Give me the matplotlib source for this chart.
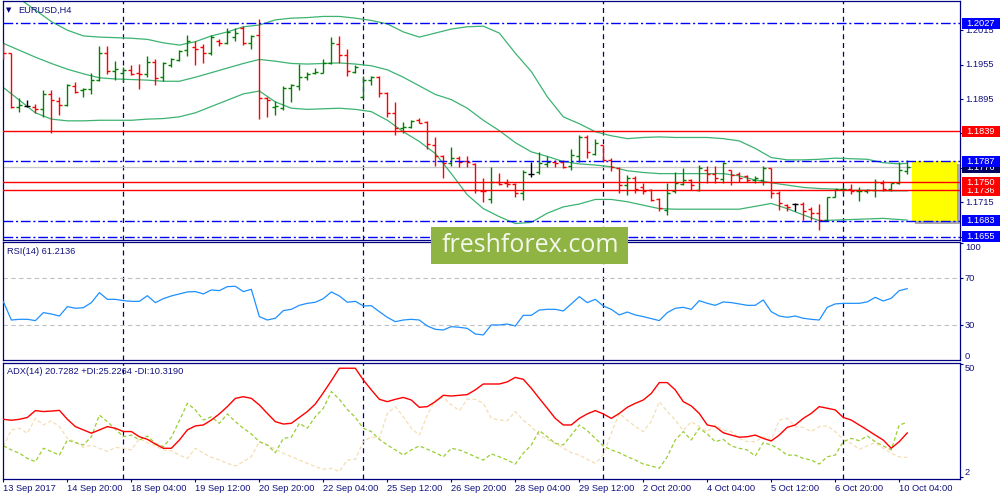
import numpy as np
import matplotlib
matplotlib.use("Agg")
import matplotlib.pyplot as plt
from matplotlib.patches import Rectangle
from matplotlib.transforms import blended_transform_factory

plt.rcParams['font.family'] = ['Liberation Sans', 'DejaVu Sans']

# EURUSD H4 bars, 13 Sep 2017 12:00 .. 10 Oct 2017 08:00
opens = [1.1986, 1.1975, 1.1881, 1.1883, 1.1881, 1.1877, 1.1903, 1.1892, 1.1884, 1.1918,
         1.1910, 1.1912, 1.1929, 1.1975, 1.1944, 1.1940, 1.1946, 1.1940, 1.1939, 1.1959,
         1.1933, 1.1954, 1.1963, 1.1980, 1.1986, 1.1986, 1.1975, 1.1996, 1.1992, 1.2004,
         1.2019, 1.1992, 1.2007, 1.1896, 1.1882, 1.1879, 1.1914, 1.1918, 1.1933, 1.1940,
         1.1941, 1.1957, 1.1991, 1.1972, 1.1943, 1.1898, 1.1928, 1.1934, 1.1905, 1.1871,
         1.1844, 1.1847, 1.1858, 1.1855, 1.1815, 1.1795, 1.1784, 1.1792, 1.1787, 1.1782,
         1.1735, 1.1720, 1.1751, 1.1749, 1.1747, 1.1732, 1.1765, 1.1767, 1.1782, 1.1786,
         1.1786, 1.1779, 1.1795, 1.1829, 1.1800, 1.1815, 1.1788, 1.1774, 1.1745, 1.1757,
         1.1742, 1.1736, 1.1720, 1.1702, 1.1734, 1.1747, 1.1754, 1.1736, 1.1772, 1.1765,
         1.1755, 1.1771, 1.1764, 1.1761, 1.1754, 1.1754, 1.1774, 1.1732, 1.1710, 1.1712,
         1.1712, 1.1704, 1.1696, 1.1684, 1.1725, 1.1738, 1.1738, 1.1734, 1.1735, 1.1736,
         1.1749, 1.1739, 1.1748, 1.1770]
highs = [1.1992, 1.1976, 1.1896, 1.1893, 1.1886, 1.1911, 1.1910, 1.1899, 1.1921, 1.1925,
         1.1915, 1.1941, 1.1987, 1.1987, 1.1961, 1.1950, 1.1954, 1.1956, 1.1970, 1.1964,
         1.1959, 1.1966, 1.1980, 1.2007, 1.1996, 1.1991, 1.2007, 1.2000, 1.2019, 1.2018,
         1.2022, 1.2007, 1.2034, 1.1899, 1.1892, 1.1918, 1.1921, 1.1956, 1.1943, 1.1949,
         1.1964, 1.2004, 1.2005, 1.1983, 1.1954, 1.1936, 1.1936, 1.1936, 1.1907, 1.1890,
         1.1855, 1.1858, 1.1862, 1.1857, 1.1829, 1.1797, 1.1811, 1.1795, 1.1795, 1.1783,
         1.1757, 1.1777, 1.1766, 1.1755, 1.1749, 1.1771, 1.1786, 1.1803, 1.1795, 1.1788,
         1.1788, 1.1808, 1.1832, 1.1832, 1.1825, 1.1815, 1.1792, 1.1776, 1.1763, 1.1760,
         1.1749, 1.1739, 1.1722, 1.1749, 1.1768, 1.1774, 1.1756, 1.1780, 1.1779, 1.1779,
         1.1786, 1.1772, 1.1767, 1.1763, 1.1760, 1.1778, 1.1775, 1.1734, 1.1712, 1.1713,
         1.1716, 1.1707, 1.1712, 1.1725, 1.1739, 1.1741, 1.1747, 1.1741, 1.1739, 1.1755,
         1.1754, 1.1749, 1.1786, 1.1789]
lows = [1.1964, 1.1879, 1.1873, 1.1881, 1.1870, 1.1864, 1.1836, 1.1867, 1.1883, 1.1906,
        1.1899, 1.1904, 1.1926, 1.1939, 1.1929, 1.1924, 1.1937, 1.1913, 1.1933, 1.1920,
        1.1926, 1.1951, 1.1962, 1.1970, 1.1954, 1.1957, 1.1972, 1.1987, 1.1991, 1.1996,
        1.1989, 1.1983, 1.1860, 1.1864, 1.1867, 1.1876, 1.1890, 1.1910, 1.1928, 1.1939,
        1.1940, 1.1956, 1.1958, 1.1935, 1.1940, 1.1897, 1.1919, 1.1898, 1.1864, 1.1832,
        1.1836, 1.1844, 1.1853, 1.1808, 1.1778, 1.1757, 1.1778, 1.1777, 1.1777, 1.1731,
        1.1716, 1.1714, 1.1745, 1.1742, 1.1725, 1.1719, 1.1759, 1.1765, 1.1777, 1.1776,
        1.1774, 1.1772, 1.1786, 1.1792, 1.1797, 1.1786, 1.1770, 1.1732, 1.1728, 1.1731,
        1.1729, 1.1718, 1.1700, 1.1693, 1.1731, 1.1745, 1.1736, 1.1734, 1.1748, 1.1748,
        1.1748, 1.1745, 1.1751, 1.1751, 1.1748, 1.1745, 1.1722, 1.1702, 1.1699, 1.1699,
        1.1684, 1.1684, 1.1667, 1.1683, 1.1724, 1.1731, 1.1729, 1.1718, 1.1731, 1.1724,
        1.1735, 1.1735, 1.1747, 1.1765]
closes = [1.1975, 1.1881, 1.1885, 1.1883, 1.1878, 1.1904, 1.1893, 1.1884, 1.1919, 1.1907,
          1.1912, 1.1929, 1.1975, 1.1944, 1.1947, 1.1946, 1.1939, 1.1939, 1.1960, 1.1932,
          1.1957, 1.1964, 1.1978, 1.1996, 1.1983, 1.1975, 1.2004, 1.1992, 1.2012, 1.2010,
          1.1992, 1.2005, 1.1896, 1.1893, 1.1883, 1.1915, 1.1919, 1.1933, 1.1939, 1.1942,
          1.1957, 1.1992, 1.1972, 1.1944, 1.1951, 1.1928, 1.1933, 1.1905, 1.1871, 1.1844,
          1.1847, 1.1856, 1.1854, 1.1817, 1.1795, 1.1783, 1.1792, 1.1786, 1.1785, 1.1736,
          1.1734, 1.1751, 1.1747, 1.1747, 1.1732, 1.1767, 1.1765, 1.1783, 1.1786, 1.1784,
          1.1777, 1.1798, 1.1829, 1.1803, 1.1818, 1.1788, 1.1776, 1.1745, 1.1757, 1.1739,
          1.1734, 1.1719, 1.1705, 1.1732, 1.1749, 1.1754, 1.1745, 1.1774, 1.1764, 1.1757,
          1.1783, 1.1763, 1.1757, 1.1754, 1.1757, 1.1774, 1.1732, 1.1713, 1.1706, 1.1712,
          1.1699, 1.1696, 1.1684, 1.1725, 1.1738, 1.1739, 1.1734, 1.1735, 1.1736, 1.1750,
          1.1739, 1.1748, 1.1771, 1.1776]

# Bollinger bands read every second bar
bb_x = list(range(0, 113, 2)) + [113]
bb_up = [1.2091, 1.2070, 1.2050, 1.2030, 1.2015, 1.2005, 1.2003, 1.2002, 1.2001, 1.1999,
         1.1993, 1.1989, 1.1995, 1.2005, 1.2012, 1.2021, 1.2024, 1.2033, 1.2036, 1.2037,
         1.2039, 1.2039, 1.2036, 1.2032, 1.2026, 1.2012, 1.2003, 1.2010, 1.2017, 1.2021,
         1.2022, 1.2010, 1.1975, 1.1943, 1.1899, 1.1864, 1.1852, 1.1838, 1.1831, 1.1826,
         1.1828, 1.1829, 1.1828, 1.1828, 1.1828, 1.1826, 1.1822, 1.1809, 1.1793, 1.1789,
         1.1789, 1.1790, 1.1792, 1.1791, 1.1790, 1.1784, 1.1782, 1.1783]
bb_mid = [1.1992, 1.1980, 1.1968, 1.1957, 1.1947, 1.1939, 1.1932, 1.1930, 1.1929, 1.1928,
          1.1926, 1.1926, 1.1933, 1.1941, 1.1949, 1.1957, 1.1964, 1.1961, 1.1957, 1.1956,
          1.1957, 1.1958, 1.1956, 1.1953, 1.1946, 1.1933, 1.1918, 1.1903, 1.1894, 1.1879,
          1.1858, 1.1840, 1.1819, 1.1803, 1.1795, 1.1786, 1.1782, 1.1780, 1.1777, 1.1770,
          1.1767, 1.1765, 1.1765, 1.1765, 1.1765, 1.1765, 1.1761, 1.1754, 1.1749, 1.1745,
          1.1741, 1.1739, 1.1738, 1.1736, 1.1736, 1.1735, 1.1735, 1.1735]
bb_low = [1.1915, 1.1893, 1.1871, 1.1860, 1.1857, 1.1857, 1.1858, 1.1858, 1.1858, 1.1860,
          1.1861, 1.1864, 1.1871, 1.1882, 1.1893, 1.1904, 1.1909, 1.1890, 1.1879, 1.1877,
          1.1878, 1.1879, 1.1877, 1.1873, 1.1858, 1.1838, 1.1821, 1.1800, 1.1765, 1.1728,
          1.1704, 1.1690, 1.1678, 1.1680, 1.1696, 1.1707, 1.1712, 1.1720, 1.1720, 1.1716,
          1.1710, 1.1704, 1.1703, 1.1703, 1.1703, 1.1703, 1.1703, 1.1708, 1.1713, 1.1704,
          1.1693, 1.1683, 1.1684, 1.1685, 1.1686, 1.1687, 1.1685, 1.1684]

rsi = [50.1, 34.5, 35.1, 35.1, 34.0, 40.8, 39.6, 37.9, 45.9, 44.5,
       45.0, 49.3, 57.8, 52.1, 52.1, 51.0, 50.4, 50.4, 55.2, 49.3,
       52.7, 55.0, 56.7, 58.4, 58.7, 56.7, 60.1, 59.5, 62.9, 63.2,
       58.7, 60.6, 37.4, 34.5, 36.0, 42.5, 43.6, 47.0, 48.7, 49.6,
       52.7, 58.4, 55.0, 49.6, 50.4, 46.5, 46.7, 41.6, 36.8, 33.1,
       34.5, 35.1, 34.5, 29.4, 26.6, 26.0, 28.9, 28.3, 27.4, 22.6,
       21.8, 30.3, 30.3, 31.1, 29.4, 38.5, 38.5, 43.0, 43.6, 43.6,
       42.2, 48.2, 54.4, 49.3, 52.1, 46.5, 43.6, 38.8, 41.3, 38.8,
       37.4, 35.7, 34.0, 40.8, 44.5, 45.3, 43.6, 51.0, 48.7, 47.0,
       49.9, 49.3, 48.2, 47.0, 47.0, 51.6, 41.6, 37.9, 36.8, 37.9,
       36.0, 35.1, 34.5, 45.3, 48.2, 48.7, 48.7, 48.7, 49.9, 53.8,
       50.7, 53.0, 59.5, 61.2]

adx = [26.5, 26.1, 26.5, 27.3, 30.2, 29.8, 30.0, 30.3, 26.5, 23.4,
       22.0, 20.6, 22.0, 23.4, 22.7, 21.3, 21.3, 19.1, 18.0, 16.0,
       14.2, 14.2, 17.7, 22.0, 23.7, 24.1, 26.2, 28.8, 31.9, 35.4,
       36.1, 35.4, 32.6, 29.0, 25.5, 24.5, 24.8, 27.3, 29.8, 33.0,
       37.8, 42.9, 48.2, 48.2, 48.2, 43.2, 39.0, 35.0, 34.0, 35.0,
       35.8, 34.7, 31.6, 31.9, 34.0, 36.7, 36.4, 36.7, 37.0, 39.0,
       41.5, 41.5, 41.5, 42.4, 44.3, 43.5, 39.7, 35.4, 31.2, 26.9,
       24.1, 24.1, 26.9, 28.8, 30.2, 28.8, 26.9, 29.0, 31.6, 33.3,
       34.7, 37.5, 42.1, 42.1, 39.0, 34.0, 32.2, 29.0, 24.1, 23.4,
       20.8, 19.8, 18.9, 19.1, 19.8, 18.4, 17.3, 19.8, 23.1, 24.1,
       26.9, 29.0, 31.9, 31.2, 30.5, 27.3, 26.2, 24.1, 22.0, 19.8,
       17.7, 14.2, 17.0, 20.7]
plus_di = [15.2, 13.5, 12.1, 9.9, 8.5, 14.2, 12.8, 11.3, 17.7, 16.6,
           15.6, 19.1, 28.3, 25.5, 22.3, 19.1, 19.8, 17.7, 19.4, 16.3,
           14.9, 18.9, 25.9, 33.3, 30.5, 26.2, 27.6, 24.8, 28.8, 25.5,
           22.7, 20.3, 17.0, 15.6, 12.3, 18.4, 18.9, 24.8, 22.7, 27.6,
           31.2, 38.3, 35.0, 30.7, 27.3, 22.7, 21.3, 18.0, 15.6, 13.5,
           11.3, 13.5, 15.2, 13.8, 12.3, 10.6, 14.2, 13.5, 12.1, 10.6,
           9.2, 11.8, 10.6, 9.2, 7.5, 12.1, 15.6, 21.7, 19.1, 16.3,
           15.6, 19.8, 24.1, 21.7, 18.4, 15.2, 13.5, 12.3, 10.6, 9.2,
           7.5, 6.7, 5.7, 10.6, 17.7, 21.3, 17.7, 22.7, 20.3, 17.0,
           18.0, 15.2, 14.2, 13.5, 10.9, 16.6, 15.6, 13.8, 11.3, 11.3,
           9.9, 9.2, 7.5, 10.6, 11.3, 17.0, 18.4, 17.4, 19.4, 17.0,
           15.2, 13.5, 24.1, 25.2]
minus_di = [14.9, 22.0, 22.7, 20.6, 26.9, 24.1, 25.9, 23.4, 18.4, 17.0,
            14.6, 15.6, 14.2, 12.8, 14.6, 14.2, 13.5, 18.4, 16.6, 15.2,
            13.5, 13.2, 11.3, 9.9, 14.2, 12.1, 10.4, 9.2, 7.8, 6.7,
            8.5, 10.6, 17.0, 15.6, 13.8, 12.1, 10.6, 9.2, 7.8, 6.4,
            5.3, 5.7, 4.3, 9.2, 9.5, 17.0, 19.1, 18.4, 29.0, 31.9,
            27.6, 22.7, 19.8, 28.3, 34.7, 35.8, 32.6, 30.2, 35.0, 35.0,
            33.3, 26.9, 26.2, 25.9, 29.8, 26.2, 23.4, 19.8, 18.0, 16.3,
            14.2, 12.3, 11.3, 9.5, 7.8, 11.3, 20.6, 29.0, 26.2, 23.4,
            21.3, 25.5, 34.0, 29.8, 26.2, 21.7, 25.5, 23.4, 21.3, 24.1,
            22.0, 21.3, 18.4, 17.0, 17.0, 19.1, 17.7, 26.2, 26.9, 23.4,
            23.1, 21.3, 23.4, 23.7, 21.3, 18.0, 16.3, 13.8, 15.2, 16.6,
            14.2, 12.1, 10.6, 10.3]

xlabels = ['13 Sep 2017', '14 Sep 20:00', '18 Sep 04:00', '19 Sep 12:00', '20 Sep 20:00',
           '22 Sep 04:00', '25 Sep 12:00', '26 Sep 20:00', '28 Sep 04:00', '29 Sep 12:00',
           '2 Oct 20:00', '4 Oct 04:00', '5 Oct 12:00', '6 Oct 20:00', '10 Oct 04:00']
week_starts = [15, 45, 75, 105]

price_ticks = [1.2015, 1.1955, 1.1895, 1.1835, 1.1775, 1.1715, 1.1655]
# scale labels that the price tags do not hide completely
price_tick_labels = [1.2015, 1.1955, 1.1895, 1.1835, 1.1715]
blue_levels = [1.2027, 1.1787, 1.1683, 1.1655]
red_levels = [1.1839, 1.1750, 1.1736]
bid = 1.1776
zone_lo, zone_hi = 1.1683, 1.1787
zone_x0, zone_x1 = 113.6, 119.2

NAVY = '#000080'
TXT = '#12127e'
FS = 6.7
W, H = 1000.0, 500.0

fig = plt.figure(figsize=(10, 5), dpi=100)
fig.patch.set_facecolor('white')


def px_axes(l, t, r, b):
    return fig.add_axes([l / W, 1 - b / H, (r - l) / W, (b - t) / H])


ax_p = px_axes(3, 1, 960, 240)
ax_r = px_axes(3, 242, 960, 360)
ax_a = px_axes(3, 363, 960, 479)

for ax in (ax_p, ax_r, ax_a):
    ax.set_xlim(-0.05, 119.6)
    for s in ax.spines.values():
        s.set_color(NAVY)
        s.set_linewidth(0.9)
    ax.tick_params(axis='y', left=False, labelleft=False, right=True, labelright=False,
                   direction='out', length=2.3, width=0.8, color=NAVY)
    ax.tick_params(axis='x', bottom=False, labelbottom=False)
    for w in week_starts:
        ax.axvline(w, color=NAVY, lw=0.9, ls=(0, (4, 3)), zorder=1)


def side_label(ax, val, txt, va='center'):
    ax.annotate(txt, xy=(1, val), xycoords=('axes fraction', 'data'), xytext=(5, 0),
                textcoords='offset pixels', ha='left', va=va, fontsize=FS, color=TXT,
                annotation_clip=False)


# ---- price panel
ax_p.set_ylim(1.16493, 1.20659)
x = np.arange(len(opens))
o, h, l, c = map(np.array, (opens, highs, lows, closes))
cols = np.where(c > o, '#008000', np.where(c < o, '#ff0000', 'black'))

ax_p.axhline(bid, color='#c8c8c8', lw=0.9, zorder=1.5)
for band in (bb_up, bb_mid, bb_low):
    ax_p.plot(bb_x, band, color='#3cb371', lw=0.9, zorder=2)
ax_p.vlines(x, l, h, colors=cols, lw=1.0, zorder=3)
ax_p.hlines(o, x - 0.375, x, colors=cols, lw=1.0, zorder=3)
ax_p.hlines(c, x, x + 0.375, colors=cols, lw=1.0, zorder=3)

ax_p.add_patch(Rectangle((zone_x0 + 0.4, zone_lo - 0.0005), zone_x1 - zone_x0, zone_hi - zone_lo,
                         fc='#a8a8a8', ec='none', zorder=3.9))
ax_p.add_patch(Rectangle((zone_x0, zone_lo), zone_x1 - zone_x0, zone_hi - zone_lo,
                         fc='#ffff00', ec='none', zorder=4))
for lv in red_levels:
    ax_p.axhline(lv, color='#ff0000', lw=1.0, zorder=5)
for lv in blue_levels:
    ax_p.axhline(lv, color='#0000ff', lw=1.0, ls=(0, (7, 2, 1.5, 2)), zorder=5)

ax_p.set_yticks(price_ticks)
for v in price_tick_labels:
    side_label(ax_p, v, f'{v:.4f}')

# price tags on the right scale
blend = blended_transform_factory(fig.transFigure, ax_p.transData)
span = 1.20659 - 1.16493
dy = 11 * span / 239
tags = [(1.2027, '#0000ff'), (1.1839, '#ff0000'), (1.1776, '#000060'), (1.1787, '#0000ff'),
        (1.1736, '#ff0000'), (1.1750, '#ff0000'), (1.1683, '#0000ff'), (1.1655, '#0000ff')]
for k, (v, fc) in enumerate(tags):
    ax_p.add_patch(Rectangle((962 / W, v - dy / 2), 38 / W, dy, transform=blend, fc=fc,
                             ec='none', clip_on=False, zorder=10 + k))
    ax_p.text(966 / W, v, f'{v:.4f}', transform=blend, color='white', fontsize=FS,
              va='center', ha='left', clip_on=False, zorder=10.5 + k)

# ---- RSI panel
ax_r.set_ylim(0.47, 100.9)
for lv in (70, 30):
    ax_r.axhline(lv, color='#c0c0c0', lw=0.8, ls=(0, (4, 3)), zorder=1)
ax_r.plot(x, rsi, color='#1e90ff', lw=0.9, zorder=3)
ax_r.set_yticks([100, 70, 30])
side_label(ax_r, 100, '100', 'top')
side_label(ax_r, 70, '70')
side_label(ax_r, 30, '30')
side_label(ax_r, 0, '0', 'bottom')

# ---- ADX panel
ax_a.set_ylim(1.15, 50.42)
ax_a.plot(x, minus_di, color='#f5deb3', lw=0.9, ls=(0, (3, 2)), zorder=2)
ax_a.plot(x, plus_di, color='#9acd32', lw=0.9, ls=(0, (3, 2)), zorder=2)
ax_a.plot(x, adx, color='#ff0000', lw=1.0, zorder=3)
ax_a.set_yticks([50, 2])
side_label(ax_a, 50, '50', 'top')
side_label(ax_a, 2, '2', 'bottom')
ax_a.set_xticks(range(0, 113, 8))
ax_a.set_xticklabels(xlabels, ha='left')
ax_a.tick_params(axis='x', bottom=True, labelbottom=True, direction='out', length=2.3,
                 width=0.8, color=NAVY, labelcolor=TXT, labelsize=FS, pad=1.5)

# ---- captions
fig.text(6 / W, 1 - 10.5 / H, '\u25bc', fontsize=5, color=NAVY, va='center',
         family='DejaVu Sans')
fig.text(18 / W, 1 - 10.7 / H, 'EURUSD,H4', fontsize=FS, color=TXT, va='center')
fig.text(7.3 / W, 1 - 252 / H, 'RSI(14) 61.2136', fontsize=FS, color=TXT, va='center')
fig.text(7.3 / W, 1 - 371.7 / H, 'ADX(14) 20.7282 +DI:25.2264 -DI:10.3190', fontsize=FS,
         color=TXT, va='center')

# watermark
fig.add_artist(Rectangle((431 / W, 1 - 263.5 / H), 197 / W, 36.5 / H,
                         transform=fig.transFigure, fc='#8fb443', ec='none', zorder=20))
fig.text(530 / W, 1 - 245.5 / H, 'freshforex.com', fontsize=18, color='#f4f8ec',
         family=['Open Sans', 'DejaVu Sans'], ha='center', va='center', zorder=21)

fig.savefig('out.png', dpi=100)
